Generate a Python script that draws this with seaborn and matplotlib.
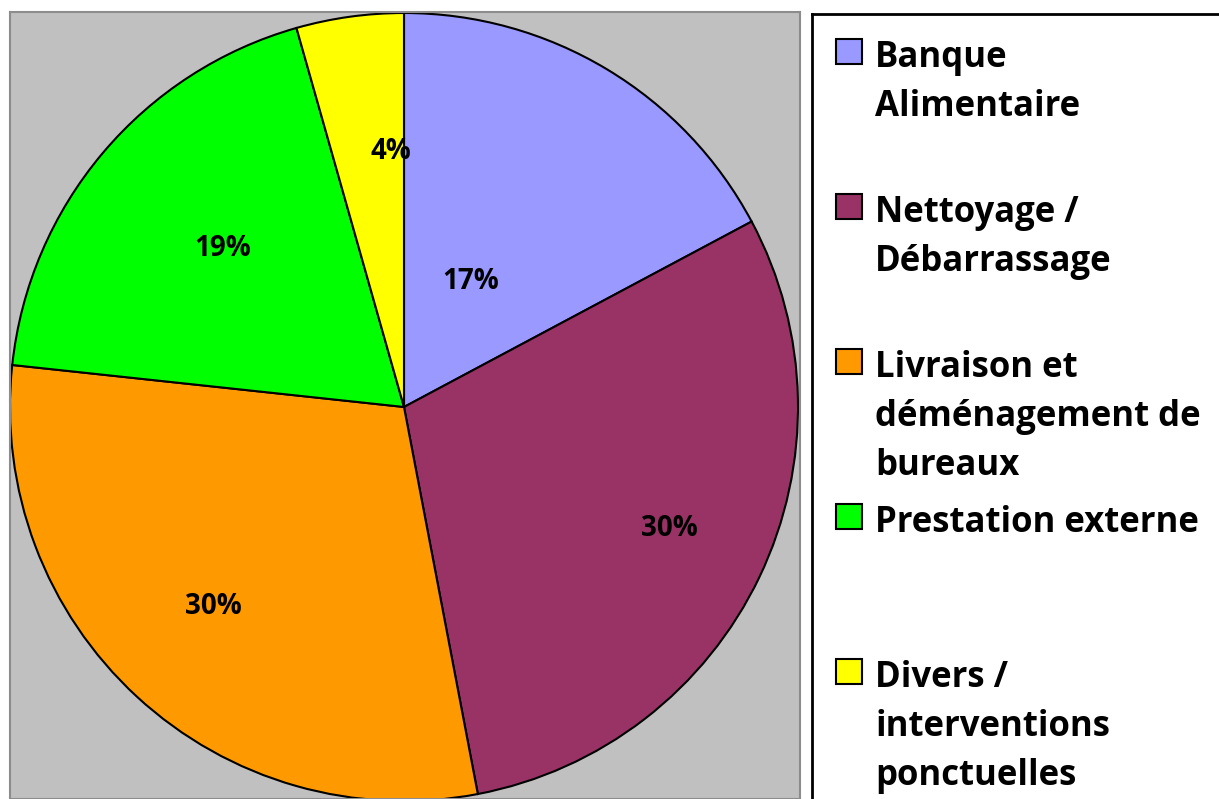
#! /usr/bin/env python3
# -*- coding: utf-8 -*-

import numpy as np
import seaborn as sns
import matplotlib
matplotlib.use('Agg')
import matplotlib.pyplot as plt
from matplotlib.patches import Rectangle

#######DATA#######
categories = ['Banque\nAlimentaire', 'Nettoyage /\nDébarrassage',
              'Livraison et\ndéménagement de\nbureaux', 'Prestation externe',
              'Divers /\ninterventions\nponctuelles']
shares = [17.2, 29.8, 29.7, 18.9, 4.4]
colors = ['#9999FF', '#993366', '#FF9900', '#00FF00', '#FFFF00']
#Percent label placement as Excel did it: radius fraction and angle nudge (deg)
label_r = [0.36, 0.74, 0.70, 0.61, 0.65]
label_dtheta = [3, 1, -1, -1, -5]

###########MAIN###########
sns.set_theme(style='white')
plt.rcParams['font.family'] = ['Open Sans', 'DejaVu Sans']

W, H = 1219, 799
fig = plt.figure(figsize=(W/100, H/100), dpi=100)
fig.patch.set_facecolor('white')

#Pie area (gray plot area, pixel geometry from the reference)
cx, cy, R = 404, 407, 394
left, right, top = 10, 800, 12
ax = fig.add_axes([left/W, 0, (right-left)/W, (H-top)/H])
wedges, texts, autotexts = ax.pie(shares, colors=colors, startangle=90, counterclock=False,
                                  autopct=lambda p: '%.0f%%' % p, pctdistance=0.6,
                                  wedgeprops=dict(edgecolor='black', linewidth=1.5),
                                  textprops=dict(fontsize=20, fontweight='bold', color='black'))
for w, t, r, dt in zip(wedges, autotexts, label_r, label_dtheta):
    mid = np.deg2rad((w.theta1 + w.theta2)/2 + dt)
    t.set_position((r*np.cos(mid), r*np.sin(mid)))
ax.set_aspect('auto')
ax.set_xlim((left-cx)/R, (right-cx)/R)
ax.set_ylim((cy-H)/R, (cy-top)/R)
ax.set_frame_on(True)
ax.set_facecolor('#C0C0C0')
for s in ax.spines.values():
    s.set_color('#8C8C8C')
    s.set_linewidth(1.5)

#Legend box drawn by hand (Excel spacing: fixed step between entries)
lx, ly = 812, 14
axl = fig.add_axes([lx/W, -0.05, 0.4, (H-ly)/H + 0.05])
axl.set_xlim(lx, lx + 0.4*W)
axl.set_ylim(H + 0.05*H, ly)
axl.set_xticks([])
axl.set_yticks([])
for s in ['left', 'top']:
    axl.spines[s].set_color('black')
    axl.spines[s].set_linewidth(2)
for s in ['right', 'bottom']:
    axl.spines[s].set_visible(False)

step, line_h = 155, 49
for i, (cat, col) in enumerate(zip(categories, colors)):
    base = 67 + step*i
    axl.add_patch(Rectangle((836, base - 28), 26, 25, facecolor=col,
                            edgecolor='black', linewidth=1.5))
    for j, line in enumerate(cat.split('\n')):
        axl.text(875, base + line_h*j, line, fontsize=25, fontweight='bold',
                 va='baseline', ha='left', color='black')

plt.savefig('out.png', dpi=100)
plt.close()
